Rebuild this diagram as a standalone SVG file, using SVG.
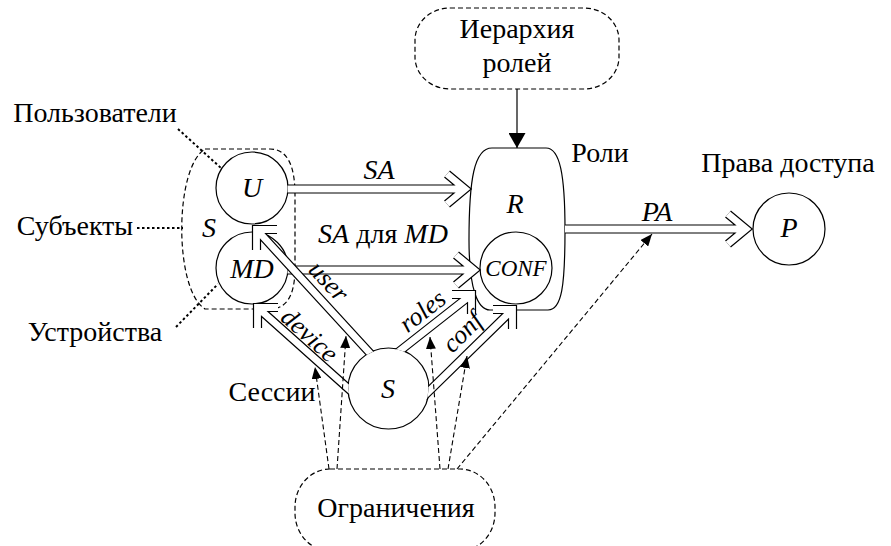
<svg xmlns="http://www.w3.org/2000/svg" xmlns:xlink="http://www.w3.org/1999/xlink" width="891" height="546" viewBox="0 0 891 546">
<style>
text{font-family:"Liberation Serif","Times New Roman",serif;font-size:28px;fill:#000}
.it{font-style:italic}
.c{text-anchor:middle}
.node{fill:#fff;stroke:#000;stroke-width:1.2}
.dash{fill:none;stroke:#000;stroke-width:1.2;stroke-dasharray:5 3}
.dot{fill:none;stroke:#000;stroke-width:2;stroke-dasharray:2.5 2.5}
.o{fill:none;stroke:#000;stroke-width:9.2;stroke-linejoin:miter}
.i{fill:none;stroke:#fff;stroke-width:6.8;stroke-linejoin:miter}
.dl{fill:none;stroke:#000;stroke-width:1.1;stroke-dasharray:5 3}
.rl{font-size:26px}
</style>
<defs>
<marker id="ah" viewBox="0 0 12 10" refX="12" refY="5" markerWidth="12" markerHeight="10" markerUnits="userSpaceOnUse" orient="auto">
<path d="M0 0 L12 5 L0 10 Z" fill="#000"/>
</marker>
<marker id="ahb" viewBox="0 0 15 17" refX="15" refY="8.5" markerWidth="15" markerHeight="17" markerUnits="userSpaceOnUse" orient="auto">
<path d="M0 0 L15 8.5 L0 17 Z" fill="#000"/>
</marker>
<mask id="mS" maskUnits="userSpaceOnUse" x="0" y="0" width="891" height="546">
<rect width="891" height="546" fill="#fff"/>
<circle cx="388.5" cy="388.5" r="40" fill="#000"/>
</mask>
<path id="pSA" d="M287.5 189 H465 M447 174 L465 189 L447 204"/>
<path id="pSAMD" d="M287.5 270 H474 M456 255 L474 270 L456 285"/>
<path id="pPA" d="M565 229 H746 M728 214 L746 229 L728 244"/>
<path id="pUser" d="M379 363 L256.5 229.5 M277 229.5 H256.5 V250"/>
<path id="pDev" d="M360 399 L257.5 307.5 M278 307.5 H257.5 V328"/>
<path id="pRoles" d="M392 357 L471.5 294.5 M452 294.5 H471.5 V314"/>
<path id="pConf" d="M420 400 L512.5 309.5 M493 309.5 H512.5 V329"/>
</defs>

<g id="hierarchy">
<rect class="dash" x="415" y="8" width="204" height="81" rx="35" ry="32"/>
<text class="c" x="517" y="38">Иерархия</text>
<text class="c" x="517" y="72">ролей</text>
</g>

<g id="subjects">
<path class="dash" d="M205 149 H270 Q295 149 295 195 V268 Q295 309 270 309 H205 C174 290 174 168 205 149 Z"/>
<text class="it c" x="209" y="237">S</text>
</g>

<g id="R">
<path class="node" d="M492 148 H546 C560 148 565 175 565 230 C565 285 562 310 548 310 H490 C478 310 469 290 469 240 C469 180 474 148 492 148 Z"/>
<text class="it c" x="515" y="213">R</text>
</g>
<g id="U"><circle class="node" cx="252" cy="188" r="36"/><text class="it c" x="252" y="197">U</text></g>
<g id="MD"><circle class="node" cx="252" cy="268" r="36"/><text class="it c" x="252" y="278">MD</text></g>
<g id="CONF"><circle class="node" cx="516" cy="268" r="36"/><text class="it c" x="516" y="276" style="font-size:23px">CONF</text></g>
<g id="Sess"><circle class="node" cx="388.5" cy="388.5" r="40.5"/><text class="it c" x="388" y="398">S</text></g>
<g id="P"><circle class="node" cx="789" cy="229" r="36"/><text class="it c" x="789" y="237">P</text></g>

<g id="connectors">
<g id="e-SA"><use xlink:href="#pSA" class="o"/><use xlink:href="#pSA" class="i"/></g>
<g id="e-SAMD"><use xlink:href="#pSAMD" class="o"/><use xlink:href="#pSAMD" class="i"/></g>
<g id="e-PA"><use xlink:href="#pPA" class="o"/><use xlink:href="#pPA" class="i"/></g>
<g id="e-user" mask="url(#mS)"><use xlink:href="#pUser" class="o"/><use xlink:href="#pUser" class="i"/></g>
<g id="e-device" mask="url(#mS)"><use xlink:href="#pDev" class="o"/><use xlink:href="#pDev" class="i"/></g>
<g id="e-roles" mask="url(#mS)"><use xlink:href="#pRoles" class="o"/><use xlink:href="#pRoles" class="i"/></g>
<g id="e-conf" mask="url(#mS)"><use xlink:href="#pConf" class="o"/><use xlink:href="#pConf" class="i"/></g>
<line x1="517" y1="89" x2="517" y2="148" stroke="#000" stroke-width="1.2" marker-end="url(#ahb)"/>
<line class="dl" x1="329" y1="469" x2="315" y2="367" marker-end="url(#ah)"/>
<line class="dl" x1="337" y1="469" x2="346" y2="336" marker-end="url(#ah)"/>
<line class="dl" x1="440" y1="469" x2="430" y2="337" marker-end="url(#ah)"/>
<line class="dl" x1="448" y1="469" x2="467" y2="356" marker-end="url(#ah)"/>
<line class="dl" x1="457" y1="469" x2="652" y2="234" marker-end="url(#ah)"/>
<line class="dot" x1="178" y1="129" x2="221" y2="168"/>
<line class="dot" x1="137" y1="228" x2="183" y2="228"/>
<line class="dot" x1="176" y1="327" x2="218" y2="284"/>
</g>

<g id="constraints">
<rect class="dash" x="295" y="469" width="200" height="82" rx="35" ry="38"/>
<text class="c" x="396" y="517">Ограничения</text>
</g>

<g id="labels">
<text class="c" x="95" y="122">Пользователи</text>
<text class="c" x="75" y="235">Субъекты</text>
<text class="c" x="95" y="341">Устройства</text>
<text class="c" x="600" y="162">Роли</text>
<text class="c" x="788" y="172">Права доступа</text>
<text class="c" x="272" y="401">Сессии</text>
<text class="it c" x="379" y="179">SA</text>
<text class="c" x="383" y="243"><tspan class="it">SA</tspan> для <tspan class="it">MD</tspan></text>
<text class="it c" x="657" y="221">PA</text>
<text class="it c rl" transform="translate(327 283) rotate(47)" y="6">user</text>
<text class="it c rl" transform="translate(308 337) rotate(42)" y="6">device</text>
<text class="it c rl" transform="translate(424 313) rotate(-38)" y="6">roles</text>
<text class="it c rl" transform="translate(464 334) rotate(-45)" y="6">conf</text>
</g>
</svg>
